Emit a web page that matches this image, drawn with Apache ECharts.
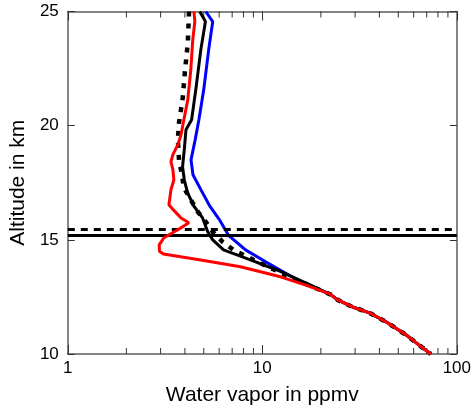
<!DOCTYPE html>
<html>
<head>
<meta charset="utf-8">
<style>
  html, body { margin: 0; padding: 0; background: #fff; }
  #chart { width: 474px; height: 412px; }
</style>
<script src="https://cdn.jsdelivr.net/npm/echarts@6/dist/echarts.min.js"></script>
</head>
<body>
<div id="chart"></div>
<script>
// Water vapour profiles (ppmv) against altitude (km)
var tailAltitude = [12.37, 12.06, 11.8, 11.4, 10.83, 10.39, 10];
var tailVapor    = [24.4, 29.1, 35.6, 43.4, 55, 64, 73.5];

var blueAltitude = [25, 24.56, 23.33, 21.58, 20.26, 19.4, 18.5, 17.85, 17.2, 16.5, 15.9, 15.2, 14.56, 14.04, 13.25, 12.6];
var blueVapor    = [5.12, 5.56, 5.3, 5.0, 4.72, 4.52, 4.3, 4.4, 4.83, 5.35, 6.0, 6.7, 8.2, 10.4, 15.1, 22.5];

var blackAltitude = [25, 24.56, 23.33, 21.58, 20.26, 19.82, 18.95, 18.2, 17.63, 17.06, 16.46, 15.96, 15.35, 15.0, 14.56, 14.12, 13.68, 13.03, 12.6];
var blackVapor    = [4.77, 5.1, 4.83, 4.55, 4.33, 4.05, 3.97, 3.89, 3.97, 4.13, 4.46, 4.93, 5.24, 5.56, 6.32, 8.68, 11.9, 17.6, 22.5];

var dottedAltitude = [25, 23.64, 22.37, 21.23, 20.13, 19.39, 18.5, 17.85, 17.28, 16.75, 16.23, 15.79, 15.35, 14.91, 14.56, 14.25, 13.82, 13.33, 12.6];
var dottedVapor    = [4.2, 4.14, 4.0, 3.9, 3.73, 3.68, 3.73, 3.86, 3.95, 4.29, 4.66, 5.12, 5.56, 6.25, 7.11, 8.38, 10.7, 14.2, 22.5];

var redAltitude = [25, 24.56, 23.77, 22.46, 21.14, 20.26, 19.6, 19.17, 18.73, 18.42, 18.07, 17.63, 17.19, 16.54, 16.3, 15.96, 15.75, 15.44, 15.09, 14.78, 14.5, 14.38, 14.12, 13.82, 13.38, 13.03, 12.63];
var redVapor    = [4.45, 4.5, 4.39, 4.29, 4.14, 3.95, 3.82, 3.68, 3.47, 3.39, 3.47, 3.51, 3.39, 3.31, 3.5, 3.82, 4.19, 3.68, 3.12, 2.95, 2.96, 3.1, 4.83, 7.72, 12.4, 16.6, 22.2];

// Tropopause heights (km)
var tropopauseSolid = 15.19;
var tropopauseDashed = 15.47;

// Minor tick positions on the log axis
var minorTicks = [2, 3, 4, 5, 6, 7, 8, 9, 20, 30, 40, 50, 60, 70, 80, 90];
var xMajor = [1, 10, 100];

function profile(vap, alt) {
  var pts = [];
  for (var i = 0; i < alt.length; i++) pts.push([vap[i], alt[i]]);
  for (var j = 0; j < tailAltitude.length; j++) pts.push([tailVapor[j], tailAltitude[j]]);
  return pts;
}

var FONT = '"Liberation Sans", Arial, Helvetica, sans-serif';
var AXIS = '#5c5c5c';

var chart = echarts.init(document.getElementById('chart'), null, { renderer: 'canvas' });

var baseX = {
  type: 'log', logBase: 10, min: 1, max: 100,
  axisLine: { show: true, lineStyle: { color: AXIS, width: 1.5 } },
  axisTick: { show: true, inside: true, length: 9, lineStyle: { color: '#333', width: 1 } },
  splitLine: { show: false },
  minorTick: { show: false }
};
var baseY = {
  type: 'value', min: 10, max: 25, interval: 5,
  axisLine: { show: true, onZero: false, lineStyle: { color: AXIS, width: 1.5 } },
  axisTick: { show: true, inside: true, length: 7, lineStyle: { color: '#333', width: 1 } },
  splitLine: { show: false }
};

chart.setOption({
  animation: false,
  backgroundColor: '#fff',
  grid: { left: 66, right: 15.5, top: 11.5, bottom: 58, containLabel: false },
  xAxis: [
    Object.assign({}, baseX, {
      position: 'bottom',
      name: 'Water vapor in ppmv', nameLocation: 'middle', nameGap: 31,
      nameTextStyle: { fontFamily: FONT, fontSize: 21, color: '#000' },
      axisLabel: { show: true, margin: 6, fontFamily: FONT, fontSize: 17, color: '#000',
        formatter: function (v) { return xMajor.indexOf(Math.round(v)) >= 0 ? String(Math.round(v)) : ''; } }
    }),
    Object.assign({}, baseX, { position: 'top', axisLabel: { show: false } })
  ],
  yAxis: [
    Object.assign({}, baseY, {
      position: 'left',
      name: 'Altitude in km', nameLocation: 'middle', nameGap: 30,
      nameTextStyle: { fontFamily: FONT, fontSize: 21, color: '#000' },
      axisLabel: { show: true, margin: 9, fontFamily: FONT, fontSize: 17, color: '#000' }
    }),
    Object.assign({}, baseY, { position: 'right', axisLabel: { show: false } })
  ],
  series: [
    {
      type: 'custom',
      xAxisIndex: 0, yAxisIndex: 0,
      data: minorTicks.map(function (v) { return [v]; }),
      encode: { x: 0 },
      clip: false, silent: true, z: 1,
      renderItem: function (params, api) {
        var v = api.value(0);
        var b = api.coord([v, 10]);
        var t = api.coord([v, 25]);
        var style = { stroke: '#333', lineWidth: 1 };
        return {
          type: 'group',
          children: [
            { type: 'line', shape: { x1: b[0], y1: b[1], x2: b[0], y2: b[1] - 6 }, style: style },
            { type: 'line', shape: { x1: t[0], y1: t[1], x2: t[0], y2: t[1] + 6 }, style: style }
          ]
        };
      }
    },
    {
      name: 'blue', type: 'line', data: profile(blueVapor, blueAltitude),
      showSymbol: false, symbol: 'none', z: 3,
      lineStyle: { color: '#0000ff', width: 3 }
    },
    {
      name: 'black', type: 'line', data: profile(blackVapor, blackAltitude),
      showSymbol: false, symbol: 'none', z: 4,
      lineStyle: { color: '#000', width: 3 },
      markLine: {
        silent: true, symbol: ['none', 'none'], label: { show: false },
        data: [
          { yAxis: tropopauseSolid, lineStyle: { color: '#000', width: 3.2, type: 'solid' } },
          { yAxis: tropopauseDashed, lineStyle: { color: '#000', width: 3.2, type: [7, 6] } }
        ]
      }
    },
    {
      name: 'dotted', type: 'line', data: profile(dottedVapor, dottedAltitude),
      showSymbol: false, symbol: 'none', z: 5,
      lineStyle: { color: '#000', width: 4.5, type: [5, 7], cap: 'butt' }
    },
    {
      name: 'red', type: 'line', data: profile(redVapor, redAltitude),
      showSymbol: false, symbol: 'none', z: 6,
      lineStyle: { color: '#ff0000', width: 3 }
    }
  ]
});
</script>
</body>
</html>
